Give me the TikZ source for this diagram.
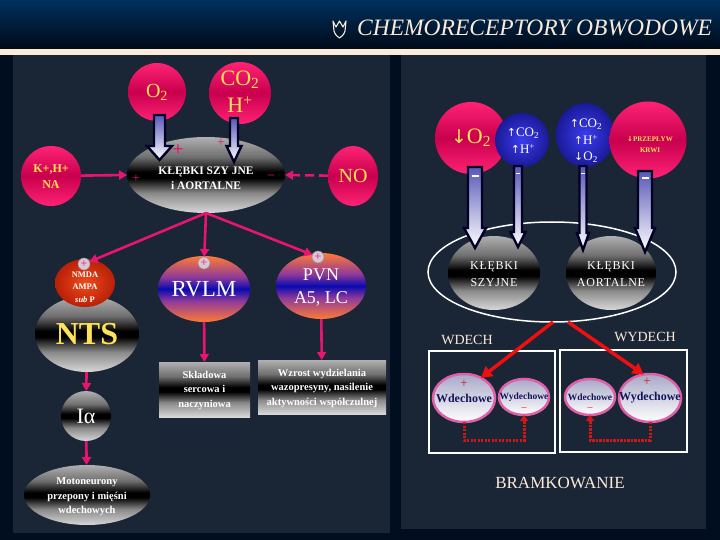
\documentclass[tikz,border=0pt]{standalone}
\usepackage{fontspec}
\setmainfont{Liberation Serif}
\newfontfamily\arr{DejaVu Sans}
\newfontfamily\spaced[LetterSpace=6]{Liberation Serif}
\usetikzlibrary{arrows.meta,shapes.geometric}
\definecolor{title1}{HTML}{00305E}
\definecolor{title2}{HTML}{000A18}
\definecolor{cream}{HTML}{FCEBD9}
\definecolor{bgout}{HTML}{000E20}
\definecolor{panel}{HTML}{1A2535}
\definecolor{magc}{HTML}{E8156F}
\definecolor{yel}{HTML}{FFE356}
\definecolor{mgL}{HTML}{FF2274}
\definecolor{mgD}{HTML}{C8004E}
\definecolor{blL}{HTML}{3C3CF0}
\definecolor{blD}{HTML}{1A1A98}
\definecolor{gL}{HTML}{D8D8D8}
\definecolor{gM}{HTML}{8A8A8A}
\definecolor{gM2}{HTML}{707070}
\definecolor{gT}{HTML}{B0B0B0}
\definecolor{orA}{HTML}{FF7A35}
\definecolor{purA}{HTML}{8E3A9A}
\definecolor{blA}{HTML}{0A0AB0}
\definecolor{nmL}{HTML}{F04A1A}
\definecolor{nmD}{HTML}{B82008}
\definecolor{redc}{HTML}{EE1010}
\definecolor{redd}{HTML}{D01818}
\definecolor{pinkc}{HTML}{E060A8}
\definecolor{lavg}{HTML}{A8A8C8}
\definecolor{navyt}{HTML}{14145A}
\definecolor{arrline}{HTML}{000026}
\definecolor{arrTop}{HTML}{5858B8}
\definecolor{pmfill}{HTML}{D8C8D4}
\definecolor{pmdraw}{HTML}{A08898}
\pgfdeclareverticalshading{grayband}{100bp}{color(0bp)=(gL); color(25bp)=(gL); color(38bp)=(gM); color(48bp)=(black); color(52bp)=(black); color(62bp)=(gM2); color(75bp)=(gT); color(100bp)=(gT)}
\pgfdeclareverticalshading{orangeband}{100bp}{color(0bp)=(orA); color(25bp)=(orA); color(41bp)=(purA); color(50bp)=(blA); color(59bp)=(purA); color(75bp)=(orA); color(100bp)=(orA)}
\pgfdeclareverticalshading{magband}{100bp}{color(0bp)=(mgL); color(25bp)=(mgL); color(50bp)=(mgD); color(75bp)=(mgL); color(100bp)=(mgL)}
\newcommand\fatarrow[6]{%
  \path[fatarr] (#1-#5,#2) -- (#1+#5,#2) -- (#1+#5,#3) -- (#1+#6,#3) -- (#1,#4) -- (#1-#6,#3) -- (#1-#5,#3) -- cycle;}
\begin{document}
\begin{tikzpicture}[x=1pt,y=-1pt,
  every node/.style={inner sep=0pt,outer sep=0pt},
  magball/.style={shading=magband},
  blueball/.style={circle,inner color=blL,outer color=blD},
  grayell/.style={ellipse,shading=grayband},
  graybox/.style={rectangle,shading=grayband},
  orell/.style={ellipse,shading=orangeband},
  pinkell/.style={ellipse,draw=pinkc,line width=2.5pt,top color=lavg,bottom color=white},
  pmark/.style={circle,minimum size=12pt,fill=pmfill,draw=pmdraw,line width=0.5pt,text=magc,font=\fontsize{12}{12}\selectfont},
  magline/.style={draw=magc,line width=2.6pt,-{Triangle[length=8pt,width=9pt]}},
  redarr/.style={draw=redc,line width=3.5pt,-{Triangle[length=11pt,width=12pt]}},
  reddot/.style={draw=redd,line width=3pt,dash pattern=on 2.2pt off 1.3pt,-{Triangle[length=6pt,width=8pt]}},
  fatarr/.style={draw=arrline,line width=2.4pt,top color=arrTop,bottom color=white,line join=miter},
  wtxt/.style={text=white,align=center},
  sign/.style={text=magc,font=\fontsize{13}{13}\selectfont}]
\useasboundingbox (0,0) rectangle (720,540);
% background
\fill[bgout] (0,0) rectangle (720,540);
\shade[top color=title1,bottom color=title2] (0,0) rectangle (720,49);
\fill[cream] (0,49) rectangle (720,55);
\fill[panel] (13,55) rectangle (390,533);
\fill[panel] (401,55) rectangle (706,529);
% title
\draw[cream,line width=1.1pt,line join=round] (333,21) -- (336,27) -- (339.5,21) -- (343,27) -- (346,21) -- (345,31) .. controls (344,35) and (341,37) .. (339.5,38) .. controls (338,37) and (335,35) .. (334,31) -- cycle;
\node[anchor=base east,text=cream,font=\itshape\fontsize{23.5}{24}\selectfont] (title) at (712,36) {CHEMORECEPTORY OBWODOWE};
% ---------------- left panel ----------------
\node[magball,circle,minimum size=58pt,text=yel,font=\fontsize{20}{22}\selectfont] (o2) at (157,92) {O\textsubscript{2}};
\node[magball,circle,minimum size=62pt] (co2) at (240,93) {};
\node[text=yel,align=center,font=\fontsize{22}{27}\selectfont] (co2T) at (240,92) {CO\textsubscript{2}\\H\textsuperscript{+}};
\node[magball,circle,minimum size=60pt] (kh) at (51,176) {};
\node[text=yel,align=center,font=\bfseries\fontsize{12}{16}\selectfont] (khT) at (51,177) {K+,H+\\NA};
\node[grayell,minimum width=158pt,minimum height=76pt] (kl) at (206,175) {};
\node[wtxt,font=\bfseries\fontsize{11.5}{15}\selectfont] (klT) at (206,178) {KŁĘBKI SZY JNE\\i AORTALNE};
\node[magball,ellipse,minimum width=50pt,minimum height=60pt,text=yel,font=\fontsize{20}{22}\selectfont] (no) at (353,176) {NO};
\node[sign,font=\bfseries\fontsize{19}{19}\selectfont] (sa) at (178,150) {+};
\node[sign] (sb) at (221,143) {+};
\node[sign] (sc) at (136,179) {+};
\node[sign] (sd) at (271,177) {–};
% NTS group
\node[grayell,minimum width=104pt,minimum height=76pt,text=yel,font=\bfseries\fontsize{32}{32}\selectfont] (nts) at (87,334) {NTS};
\node[ellipse,minimum width=60pt,minimum height=48pt,inner color=nmL,outer color=nmD] (nmda) at (85,283) {};
\node[wtxt,font=\bfseries\fontsize{8.5}{12.5}\selectfont] (nmdaT) at (85,287) {NMDA\\AMPA\\{\itshape sub} P};
\node[grayell,minimum size=50pt,text=white,font=\fontsize{22}{22}\selectfont] (ia) at (86,416) {Iα};
\node[grayell,minimum width=126pt,minimum height=60pt] (mot) at (87,495) {};
\node[wtxt,font=\bfseries\fontsize{10.5}{14.5}\selectfont] (motT) at (87,497) {Motoneurony\\przepony i mięśni\\wdechowych};
% RVLM / PVN
\node[orell,minimum width=92pt,minimum height=66pt,text=white,font=\fontsize{23}{24}\selectfont] (rvlm) at (204,289) {RVLM};
\node[orell,minimum width=90pt,minimum height=66pt] (pvn) at (321,286) {};
\node[wtxt,font=\fontsize{18}{23}\selectfont] (pvnT) at (321,287) {PVN\\A5, LC};
\node[graybox,minimum width=91pt,minimum height=55pt] (box1) at (204.5,389.5) {};
\node[wtxt,font=\bfseries\fontsize{10.5}{14.5}\selectfont] (box1T) at (204.5,390) {Składowa\\sercowa i\\naczyniowa};
\node[graybox,minimum width=128pt,minimum height=54pt] (box2) at (322,387) {};
\node[wtxt,font=\bfseries\fontsize{10.5}{14.5}\selectfont] (box2T) at (322,388) {Wzrost wydzielania\\wazopresyny, nasilenie\\aktywności współczulnej};
% markers
\node[pmark] (p1) at (84,264) {+};
\node[pmark] (p2) at (204,263) {+};
\node[pmark] (p3) at (318,257) {+};
% connectors left
\draw[magline] (kh) -- (kl.west);
\draw[magline,dash pattern=on 9pt off 5pt] (no) -- (kl.east);
\draw[magline] (kl.south) -- (p1);
\draw[magline] (kl.south) -- (p2);
\draw[magline] (kl.south) -- (p3);
\draw[magline] (rvlm) -- (box1);
\draw[magline] (pvn) -- (box2);
\draw[magline] (nts) -- (ia);
\draw[magline] (ia) -- (mot);
\fatarrow{159.5}{115}{146}{160}{5.5}{12.5}
\fatarrow{234}{118}{146}{162}{4}{7.5}
% ---------------- right panel ----------------
\node[magball,circle,minimum size=72pt,text=yel,font=\fontsize{22}{22}\selectfont] (do2) at (471,138) {{\arr\fontsize{19}{19}\selectfont ↓}O\textsubscript{2}};
\node[blueball,minimum size=54pt] (bc1) at (522,140) {};
\node[wtxt,font=\fontsize{13}{17}\selectfont] (bc1T) at (523,141) {{\arr\fontsize{11}{11}\selectfont ↑}CO\textsubscript{2}\\{\arr\fontsize{11}{11}\selectfont ↑}H\textsuperscript{+}};
\node[blueball,ellipse,minimum width=58pt,minimum height=64pt] (bc2) at (585,135) {};
\node[wtxt,font=\fontsize{13}{16.5}\selectfont] (bc2T) at (586,141) {{\arr\fontsize{11}{11}\selectfont ↑}CO\textsubscript{2}\\{\arr\fontsize{11}{11}\selectfont ↑}H\textsuperscript{+}\\{\arr\fontsize{11}{11}\selectfont ↓}O\textsubscript{2}};
\node[magball,circle,minimum size=77pt] (prz) at (648,140) {};
\node[text=yel,align=center,font=\bfseries\fontsize{7}{11}\selectfont] (przT) at (650,145) {{\arr ↓}PRZEPŁYW\\KRWI};
\node[ellipse,draw=white,line width=1.5pt,minimum width=248pt,minimum height=100pt] (big) at (552,272) {};
\node[grayell,minimum width=92pt,minimum height=74pt] (kss) at (494,273) {};
\node[wtxt,font=\spaced\fontsize{12}{17}\selectfont] (kssT) at (494,274) {KŁĘBKI\\SZYJNE};
\node[grayell,minimum width=90pt,minimum height=74pt] (kao) at (611,273) {};
\node[wtxt,font=\spaced\fontsize{12}{17}\selectfont] (kaoT) at (611,274) {KŁĘBKI\\AORTALNE};
\fatarrow{475}{167}{228}{248}{7}{11}
\fatarrow{518}{166}{232}{247}{4}{7.5}
\fatarrow{583}{166}{233}{250}{3.5}{6}
\fatarrow{645}{171}{228}{252}{7}{10}
\draw[white,line width=1.2pt] (471.5,176) -- (478.5,176);
\draw[white,line width=1pt] (516,174) -- (520,174);
\draw[white,line width=1pt] (581,174) -- (585,174);
\draw[white,line width=1.2pt] (641.5,178) -- (648.5,178);
% gating
\node[text=cream,font=\fontsize{14}{14}\selectfont] (wdech) at (467,340) {WDECH};
\node[text=cream,font=\fontsize{14}{14}\selectfont] (wydech) at (645,337) {WYDECH};
\draw[white,line width=1.5pt] (429,351) rectangle (555,453);
\draw[white,line width=1.5pt] (560,350) rectangle (687,452);
\node[pinkell,minimum width=62pt,minimum height=48pt,text=navyt,font=\bfseries\fontsize{12}{12}\selectfont] (wd1) at (464,398) {\makebox[0pt]{Wdechowe}};
\node[pinkell,minimum width=50pt,minimum height=36pt,text=navyt,font=\bfseries\fontsize{9.5}{9.5}\selectfont] (wy1) at (524,397) {\makebox[0pt]{Wydechowe}};
\node[pinkell,minimum width=50pt,minimum height=36pt,text=navyt,font=\bfseries\fontsize{9.5}{9.5}\selectfont] (wd2) at (590,397) {\makebox[0pt]{Wdechowe}};
\node[pinkell,minimum width=62pt,minimum height=48pt,text=navyt,font=\bfseries\fontsize{12}{12}\selectfont] (wy2) at (650,398) {\makebox[0pt]{Wydechowe}};
\node[text=redd,font=\fontsize{13}{13}\selectfont] (pl1) at (464,384) {+};
\node[text=redd,font=\fontsize{10}{10}\selectfont] (mi1) at (524,409) {–};
\node[text=redd,font=\fontsize{10}{10}\selectfont] (mi2) at (590,409) {–};
\node[text=redd,font=\fontsize{13}{13}\selectfont] (pl2) at (647,382) {+};
\coordinate (rs1) at (553,322);
\coordinate (rs2) at (568,322);
\draw[redarr] (rs1) -- (wd1.50);
\draw[redarr] (rs2) -- (wy2.105);
\draw[reddot] (wd1.south) -- ++(0,18) -| (wy1.south);
\draw[reddot] (wy2.south) -- ++(0,18) -| (wd2.south);
\node[text=cream,font=\fontsize{17}{17}\selectfont] (bram) at (560,483) {BRAMKOWANIE};
\end{tikzpicture}
\end{document}
